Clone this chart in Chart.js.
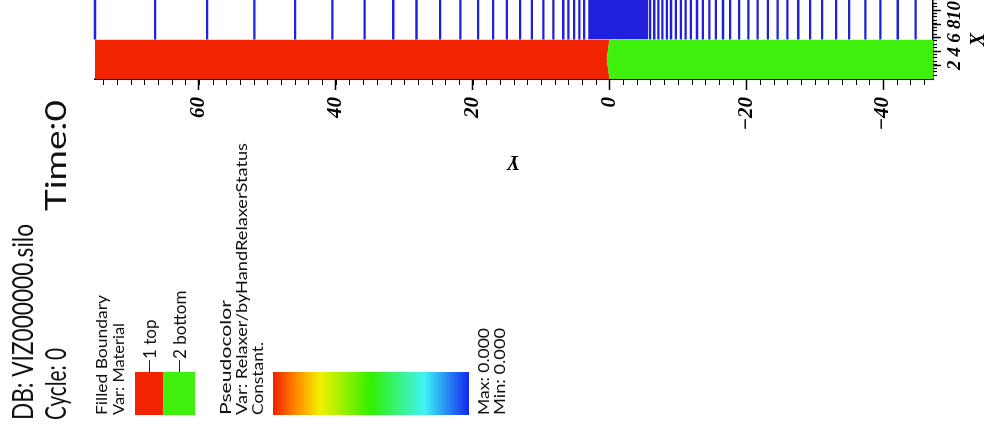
<!DOCTYPE html>
<html>
<head>
<meta charset="utf-8">
<script src="https://cdn.jsdelivr.net/npm/chart.js@4.4.1/dist/chart.umd.min.js"></script>
<style>
html, body { margin: 0; padding: 0; background: #fff; overflow: hidden; }
#wrap { position: relative; width: 989px; height: 430px; overflow: hidden; }
#plot { position: absolute; left: 0; top: 0; transform-origin: 0 0; transform: translateY(430px) rotate(-90deg); }
</style>
</head>
<body>
<div id="wrap"><canvas id="plot" width="430" height="989"></canvas></div>
<script>
// VisIt window: drawn upright, then the canvas is turned a quarter turn left like the saved image
var xRange = [0, 11.55];
var yRange = [-47.3, 75.2];
var xTicks = [2, 4, 6, 8, 10];
var yTicks = [60, 40, 20, 0, -20, -40];
var xMinorStep = 0.5;
var yMinorStep = 2;

// Filled Boundary (Material)
var materialNames = ['1 top', '2 bottom'];
var materialColors = ['#f22300', '#3ef00c'];
var boundaryX = [0, 2.9, 5.77];
var boundaryY = [0, 0.38, 0];

// mesh lines above the materials (constant Y)
var meshStartX = 5.77;
var meshY = [75.2, 66.4, 58.8, 51.9, 45.95, 40.5, 35.8, 31.6, 28.2, 24.75, 21.8, 19.2, 17.0, 15.0,
    13.05, 11.35, 9.65, 8.2, 6.75, 6.0, 5.15, 4.4, 3.7,
    -5.95, -6.55, -7.15, -7.75, -8.4, -9.0, -9.7, -10.45, -11.15, -11.9, -12.8, -13.65, -14.6,
    -15.55, -16.6, -17.65, -18.95, -20.3, -21.65, -23.15, -24.6, -26.0, -27.6, -29.35, -31.1,
    -33.15, -35.05, -37.4, -39.6, -42.15, -44.75];
var meshDenseBand = [3.11, -5.66];
var meshColor = '#2020dc';

// Pseudocolor legend
var colorbarStops = [0, 0.12, 0.24, 0.5, 0.77, 1];
var colorbarColors = ['#f02000', '#ff8a00', '#f2f000', '#30f000', '#40f4f4', '#1028f0'];
var pseudoMax = 0.000;
var pseudoMin = 0.000;

var axisFont = { family: '"Liberation Serif", serif', size: 21, style: 'italic', weight: 'bold' };
var textFont = 'Lato, "Open Sans", sans-serif';

function fmt(v) {
    return v < 0 ? '\u2212' + Math.abs(v) : String(v);
}

var datasets = [];
datasets.push({
    label: materialNames[1],
    data: boundaryX.map((x, i) => ({ x: x, y: boundaryY[i] })),
    showLine: true, fill: 'start', backgroundColor: materialColors[1],
    borderWidth: 0, pointRadius: 0
});
datasets.push({
    label: materialNames[0],
    data: boundaryX.map((x, i) => ({ x: x, y: boundaryY[i] })),
    showLine: true, fill: 'end', backgroundColor: materialColors[0],
    borderWidth: 0, pointRadius: 0
});
datasets.push({
    label: 'mesh band',
    data: [{ x: meshStartX, y: meshDenseBand[0] }, { x: xRange[1], y: meshDenseBand[0] }],
    showLine: true, fill: { value: meshDenseBand[1] }, backgroundColor: meshColor,
    borderWidth: 0, pointRadius: 0
});
meshY.forEach(function (y) {
    datasets.push({
        label: 'mesh',
        data: [{ x: meshStartX, y: y }, { x: xRange[1], y: y }],
        showLine: true, fill: false, borderColor: meshColor, borderWidth: 2.3,
        pointRadius: 0, clip: 2
    });
});

var minorTicks = {
    id: 'minorTicks',
    afterDraw: function (chart) {
        var ctx = chart.ctx, xs = chart.scales.x, ys = chart.scales.y;
        ctx.save();
        ctx.strokeStyle = '#000';
        ctx.lineWidth = 1.2;
        ctx.beginPath();
        for (var v = Math.ceil(ys.min / yMinorStep) * yMinorStep; v <= ys.max; v += yMinorStep) {
            var p = Math.round(ys.getPixelForValue(v)) + 0.5;
            ctx.moveTo(ys.right, p);
            ctx.lineTo(ys.right - 6, p);
        }
        for (var u = xMinorStep; u <= xs.max; u += xMinorStep) {
            var q = Math.round(xs.getPixelForValue(u)) + 0.5;
            ctx.moveTo(q, xs.top);
            ctx.lineTo(q, xs.top + 4);
        }
        ctx.stroke();
        ctx.restore();
    }
};

function fitText(ctx, text, x, y, w) {
    var m = ctx.measureText(text).width;
    ctx.save();
    ctx.translate(x, y);
    ctx.scale(w / m, 1);
    ctx.fillText(text, 0, 0);
    ctx.restore();
}

// VisIt annotations: database line, legends
var annotations = {
    id: 'annotations',
    afterDraw: function (chart) {
        var ctx = chart.ctx;
        ctx.save();
        ctx.fillStyle = '#111';
        ctx.textBaseline = 'alphabetic';
        ctx.font = '400 28px ' + textFont;
        fitText(ctx, 'DB: VIZ000000.silo', 10, 33, 196);
        fitText(ctx, 'Cycle: 0', 10, 66, 72);
        fitText(ctx, 'Time:0', 219, 66, 111);

        ctx.font = '400 16px ' + textFont;
        fitText(ctx, 'Filled Boundary', 15, 107, 120);
        fitText(ctx, 'Var: Material', 15, 124, 92);

        // material boxes
        var boxTop = [135, 163.5], boxBottom = [163.5, 195];
        materialNames.forEach(function (name, i) {
            ctx.fillStyle = materialColors[i];
            ctx.fillRect(15, boxTop[i], 43, boxBottom[i] - boxTop[i]);
            var mid = (boxTop[i] + boxBottom[i]) / 2;
            ctx.strokeStyle = '#222';
            ctx.lineWidth = 1;
            ctx.beginPath();
            ctx.moveTo(58, Math.round(mid) + 0.5);
            ctx.lineTo(70, Math.round(mid) + 0.5);
            ctx.stroke();
            ctx.fillStyle = '#111';
            ctx.textBaseline = 'middle';
            ctx.font = '400 17px ' + textFont;
            ctx.fillText(name, 71, mid + 1);
        });
        ctx.textBaseline = 'alphabetic';
        ctx.font = '400 16px ' + textFont;
        fitText(ctx, 'Pseudocolor', 15, 231, 115);
        fitText(ctx, 'Var: Relaxer/byHandRelaxerStatus', 15, 247, 272);
        fitText(ctx, 'Constant.', 15, 263, 73);

        // colour bar
        var g = ctx.createLinearGradient(0, 273, 0, 469);
        colorbarStops.forEach(function (s, i) { g.addColorStop(s, colorbarColors[i]); });
        ctx.fillStyle = g;
        ctx.fillRect(15, 273, 43, 196);

        ctx.fillStyle = '#111';
        fitText(ctx, 'Max: ' + pseudoMax.toFixed(3), 15, 489, 87);
        fitText(ctx, 'Min: ' + pseudoMin.toFixed(3), 15, 505, 87);
        ctx.restore();
    }
};

var ctx = document.getElementById('plot').getContext('2d');
var chart = new Chart(ctx, {
    type: 'scatter',
    data: { datasets: datasets },
    options: {
        responsive: false,
        animation: false,
        events: [],
        layout: { padding: { left: 257, top: 95, right: 0, bottom: 0 } },
        plugins: {
            legend: { display: false },
            tooltip: { enabled: false }
        },
        scales: {
            x: {
                type: 'linear',
                position: 'bottom',
                min: xRange[0],
                max: xRange[1],
                afterBuildTicks: function (s) { s.ticks = xTicks.map(v => ({ value: v })); },
                afterFit: function (s) { s.height = 56; s.paddingLeft = 0; s.paddingRight = 0; },
                ticks: {
                    autoSkip: false, minRotation: 0, maxRotation: 0, padding: 3,
                    color: '#000', font: Object.assign({}, axisFont, { size: 19 }),
                    callback: function (v) { return fmt(v); }
                },
                grid: { drawOnChartArea: false, tickLength: 8, color: '#000', tickWidth: 1.5 },
                border: { color: '#000', width: 1.5 },
                title: {
                    display: true, text: 'X', color: '#000', padding: 0,
                    font: Object.assign({}, axisFont, { size: 20, lineHeight: 1 })
                }
            },
            y: {
                type: 'linear',
                position: 'left',
                min: yRange[0],
                max: yRange[1],
                afterBuildTicks: function (s) { s.ticks = yTicks.map(v => ({ value: v })); },
                afterFit: function (s) { s.width = 94; s.paddingTop = 0; s.paddingBottom = 0; },
                ticks: {
                    autoSkip: false, padding: 7, color: '#000', font: axisFont,
                    callback: function (v) { return fmt(v); }
                },
                grid: { drawOnChartArea: false, tickLength: 11, color: '#000', tickWidth: 1.5 },
                border: { color: '#000', width: 1.5 },
                title: {
                    display: true, text: 'Y', color: '#000', padding: 0,
                    font: Object.assign({}, axisFont, { size: 20, lineHeight: 1.2 })
                }
            }
        }
    },
    plugins: [minorTicks, annotations]
});
</script>
</body>
</html>
